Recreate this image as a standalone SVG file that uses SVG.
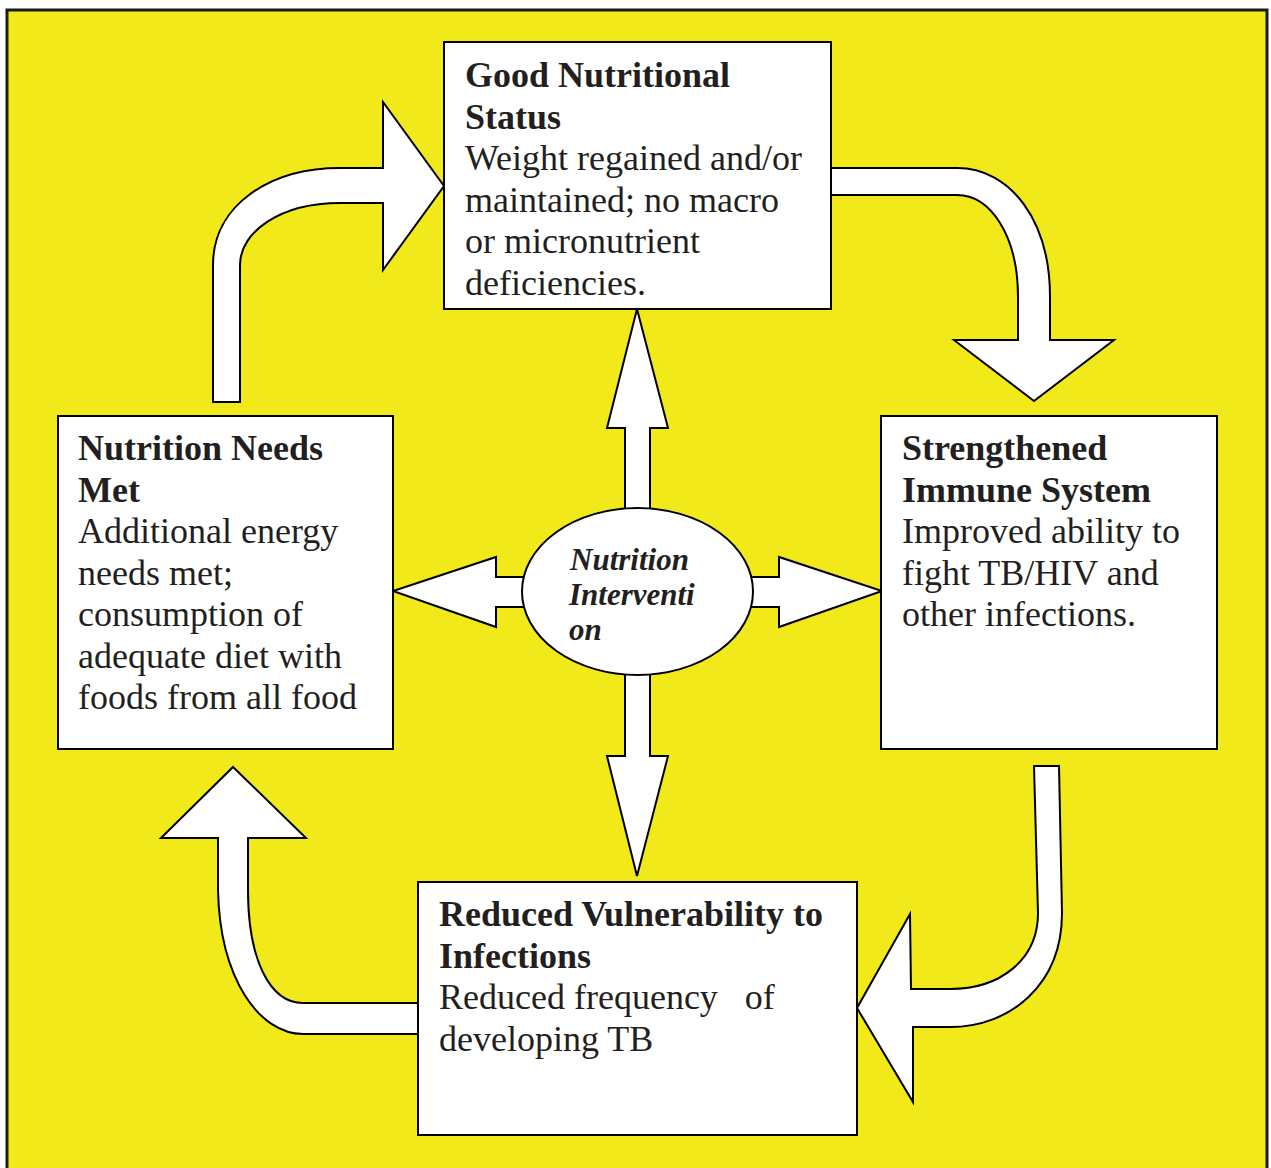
<svg xmlns="http://www.w3.org/2000/svg" width="1271" height="1168" viewBox="0 0 1271 1168">
<style>
.box{fill:#fff;stroke:#000;stroke-width:2}
.arr{fill:#fff;stroke:#000;stroke-width:2;stroke-linejoin:miter}
text{font-family:"Liberation Serif","Times New Roman",serif;font-size:36px;fill:#231F20}
.t{font-weight:bold}
.c{font-weight:bold;font-style:italic;font-size:31px}
</style>
<rect x="7" y="10" width="1260" height="1170" fill="#F1E91A" stroke="#1a1a1a" stroke-width="3"/>
<g id="connectors">
<path class="arr" d="M213,402 L213,265 C213,205 270,168 340,168 L383,168 L383,102 L444,186 L383,270 L383,203 L340,203 C280,203 240,232 240,265 L240,402 Z"/>
<path class="arr" d="M831,168 L957,168 C1010,168 1050,220 1050,297 L1050,340 L1114,340 L1034,401 L954,340 L1018,340 L1018,297 C1018,235 990,195 957,195 L831,195 Z"/>
<path class="arr" d="M1034,766 L1059,766 L1062,913 C1062,985 1010,1027 950,1027 L913,1027 L913,1102 L857,1008 L910,914 L911,989 L950,989 C1000,989 1038,960 1038,913 Z"/>
<path class="arr" d="M418,1003 L303,1003 C270,1003 248,960 248,890 L248,838 L306,838 L233,767 L161,838 L218,838 L218,890 C220,980 260,1034 303,1034 L418,1034 Z"/>
<path class="arr" d="M625,515 L625,428 L607,428 L637,309 L668,428 L650,428 L650,515 Z"/>
<path class="arr" d="M625,670 L625,756 L607,756 L637,876 L668,756 L650,756 L650,670 Z"/>
<path class="arr" d="M530,577 L496,577 L496,557 L393,591 L496,627 L496,607 L530,607 Z"/>
<path class="arr" d="M745,577 L779,577 L779,557 L882,591 L779,627 L779,607 L745,607 Z"/>
</g>
<g id="node-center">
<ellipse cx="637.5" cy="591.5" rx="115.5" ry="83.5" fill="#fff" stroke="#000" stroke-width="2"/>
<text class="c" x="570" y="570">Nutrition</text>
<text class="c" x="569" y="605">Interventi</text>
<text class="c" x="569" y="640">on</text>
</g>
<g id="node-top">
<rect class="box" x="444" y="42" width="387" height="267"/>
<text class="t" x="465" y="87">Good Nutritional</text>
<text class="t" x="465" y="128.5">Status</text>
<text x="465" y="170">Weight regained and/or</text>
<text x="465" y="211.5">maintained; no macro</text>
<text x="465" y="253">or micronutrient</text>
<text x="465" y="294.5">deficiencies.</text>
</g>
<g id="node-left">
<rect class="box" x="58" y="416" width="335" height="333"/>
<text class="t" x="78" y="460">Nutrition Needs</text>
<text class="t" x="78" y="501.5">Met</text>
<text x="78" y="543">Additional energy</text>
<text x="78" y="584.5">needs met;</text>
<text x="78" y="626">consumption of</text>
<text x="78" y="667.5">adequate diet with</text>
<text x="78" y="709">foods from all food</text>
</g>
<g id="node-right">
<rect class="box" x="881" y="416" width="336" height="333"/>
<text class="t" x="902" y="460">Strengthened</text>
<text class="t" x="902" y="501.5">Immune System</text>
<text x="902" y="543">Improved ability to</text>
<text x="902" y="584.5">fight TB/HIV and</text>
<text x="902" y="626">other infections.</text>
</g>
<g id="node-bottom">
<rect class="box" x="418" y="882" width="439" height="253"/>
<text class="t" x="439" y="926">Reduced Vulnerability to</text>
<text class="t" x="439" y="968">Infections</text>
<text x="439" y="1009" xml:space="preserve">Reduced frequency   of</text>
<text x="439" y="1051">developing TB</text>
</g>
</svg>
